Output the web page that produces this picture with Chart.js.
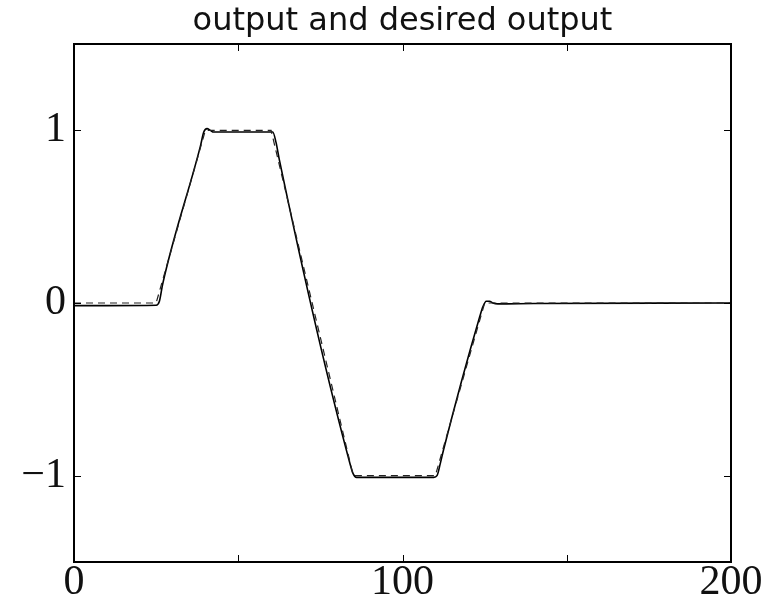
<!DOCTYPE html>
<html>
<head>
<meta charset="utf-8">
<script src="https://cdn.jsdelivr.net/npm/chart.js@4.4.0/dist/chart.umd.min.js"></script>
<style>
  html, body { margin: 0; padding: 0; background: #fff; }
  #wrap { width: 768px; height: 602px; }
</style>
</head>
<body>
<div id="wrap"><canvas id="outChart" width="768" height="602"></canvas></div>
<script>
// desired output (dashed)
const desiredX = [0, 25, 40, 60, 85, 110, 125, 200];
const desiredY = [0, 0, 1, 1, -1, -1, 0, 0];

// actual output (solid)
const outputX = [0, 10, 25, 26, 27, 38.5, 39.5, 40.5, 41.5, 42.5, 58, 60.5, 61.5, 62.5, 84, 85, 86, 109.5, 110.5, 111.5, 112.5, 123.5, 124.5, 125.5, 126.5, 127.5, 129, 140, 200];
const outputY = [-0.015, -0.015, -0.013, 0.01, 0.11, 0.91, 0.99, 1.01, 1.0, 0.99, 0.99, 0.99, 0.93, 0.83, -0.93, -0.99, -1.01, -1.01, -1.0, -0.93, -0.85, -0.08, -0.02, 0.01, 0.01, 0.0, -0.005, -0.003, 0];

const xTicks = [0, 50, 100, 150, 200];
const xLabels = { 0: "0", 100: "100", 200: "200" };
const yTicks = [-1, 0, 1];
const yLabels = { "-1": "\u22121", "0": "0", "1": "1" };
const titleText = "output and desired output";

const toPoints = (xs, ys) => xs.map((x, i) => ({ x: x, y: ys[i] }));

// box + inward ticks on all four sides, title centred over the plot box
const boxPlugin = {
  id: "boxTicks",
  afterDraw(chart) {
    const { ctx, chartArea: a, scales } = chart;
    const len = 7;
    ctx.save();
    ctx.strokeStyle = "#000";
    ctx.lineWidth = 1;
    ctx.beginPath();
    xTicks.forEach(v => {
      const px = Math.round(scales.x.getPixelForValue(v)) + 0.5;
      ctx.moveTo(px, a.bottom); ctx.lineTo(px, a.bottom - len);
      ctx.moveTo(px, a.top); ctx.lineTo(px, a.top + len);
    });
    yTicks.forEach(v => {
      const py = Math.round(scales.y.getPixelForValue(v)) + 0.5;
      ctx.moveTo(a.left, py); ctx.lineTo(a.left + len, py);
      ctx.moveTo(a.right, py); ctx.lineTo(a.right - len, py);
    });
    ctx.stroke();
    ctx.lineWidth = 2;
    ctx.strokeRect(a.left, a.top, a.right - a.left, a.bottom - a.top);

    ctx.fillStyle = "#111";
    ctx.font = "32px 'DejaVu Sans'";
    ctx.textAlign = "center";
    ctx.textBaseline = "alphabetic";
    ctx.fillText(titleText, (a.left + a.right) / 2, 30);
    ctx.restore();
  }
};

new Chart(document.getElementById("outChart").getContext("2d"), {
  type: "line",
  data: {
    datasets: [
      {
        label: "desired output",
        data: toPoints(desiredX, desiredY),
        borderColor: "#222",
        borderWidth: 1.2,
        borderDash: [7, 5],
        pointRadius: 0,
        tension: 0,
      },
      {
        label: "output",
        data: toPoints(outputX, outputY),
        borderColor: "#000",
        borderWidth: 1.6,
        pointRadius: 0,
        cubicInterpolationMode: "monotone",
      },
    ],
  },
  options: {
    responsive: false,
    animation: false,
    layout: { padding: { left: 0, right: 37, top: 44, bottom: 0 } },
    plugins: {
      legend: { display: false },
      tooltip: { enabled: false },
      title: { display: false },
    },
    scales: {
      x: {
        type: "linear",
        min: 0,
        max: 200,
        grid: { display: false, drawTicks: false },
        border: { display: false },
        afterBuildTicks: s => { s.ticks = xTicks.map(v => ({ value: v })); },
        afterFit: s => { s.height = 40; s.paddingLeft = 0; s.paddingRight = 0; },
        ticks: {
          autoSkip: false,
          maxRotation: 0,
          padding: -4,
          color: "#111",
          font: { family: "Liberation Serif", size: 42 },
          callback: v => xLabels[v] || "",
        },
      },
      y: {
        type: "linear",
        min: -1.5,
        max: 1.5,
        grid: { display: false, drawTicks: false },
        border: { display: false },
        afterBuildTicks: s => { s.ticks = yTicks.map(v => ({ value: v })); },
        afterFit: s => { s.width = 74; s.paddingTop = 0; s.paddingBottom = 0; },
        ticks: {
          autoSkip: false,
          padding: 8,
          color: "#111",
          font: { family: "Liberation Serif", size: 42 },
          callback: v => yLabels[String(v)] || "",
        },
      },
    },
  },
  plugins: [boxPlugin],
});
</script>
</body>
</html>
